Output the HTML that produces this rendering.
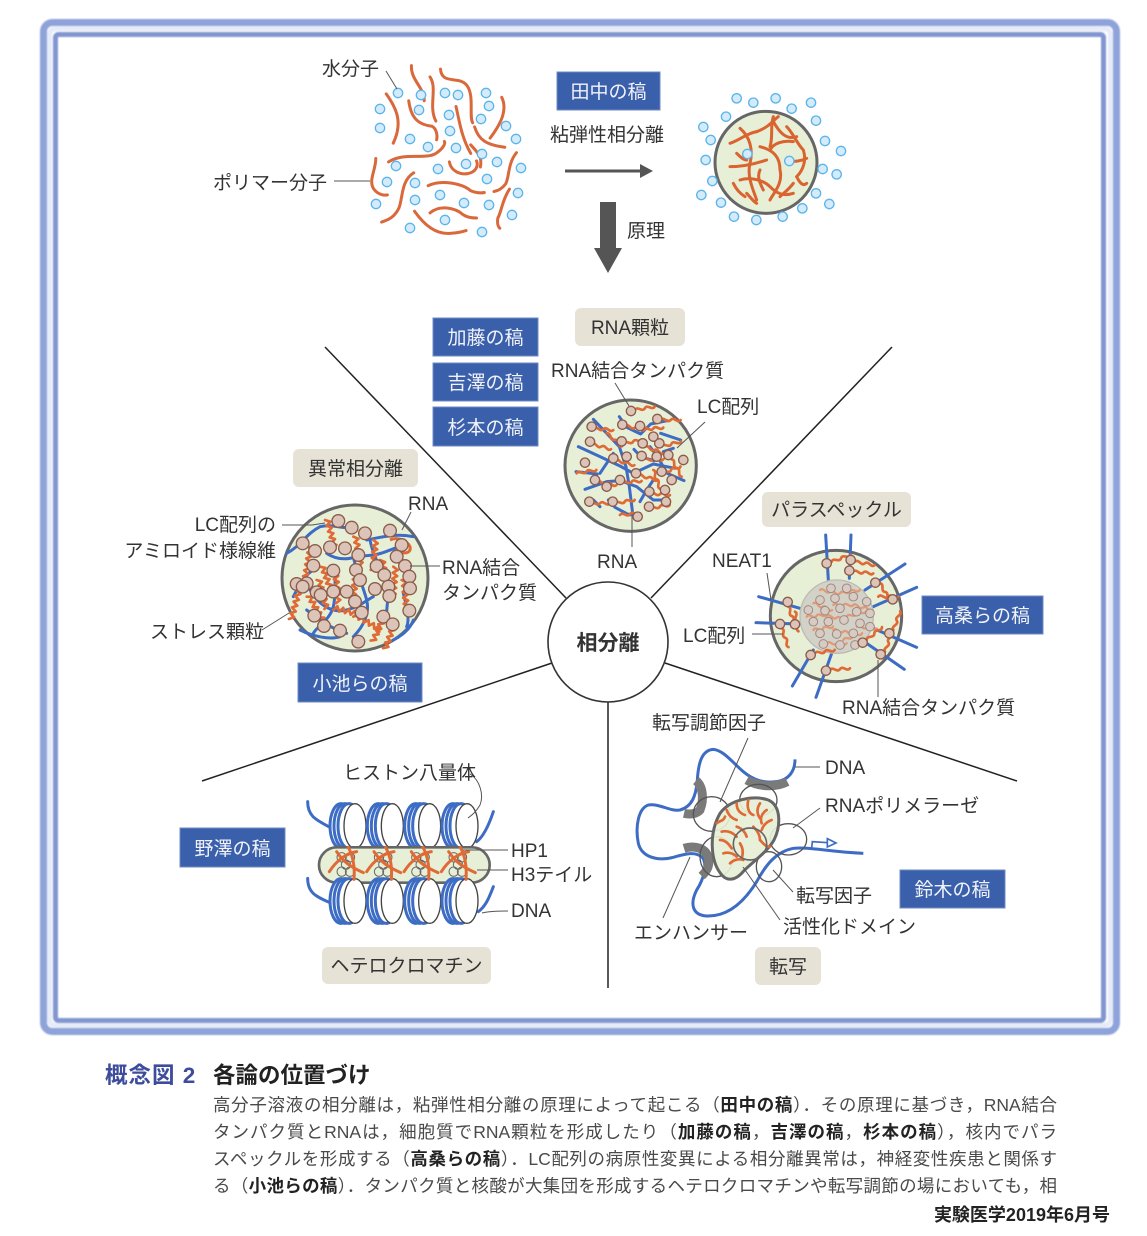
<!DOCTYPE html>
<html><head><meta charset="utf-8">
<style>
html,body{margin:0;padding:0;background:#fff;}
body{width:1147px;height:1236px;position:relative;overflow:hidden;font-family:"Liberation Sans","Noto Sans CJK JP",sans-serif;}
svg{position:absolute;left:0;top:0;}
.t{font-family:"Liberation Sans","Noto Sans CJK JP",sans-serif;font-size:19px;fill:#333;}
.bt{font-family:"Liberation Sans","Noto Sans CJK JP",sans-serif;font-size:19px;fill:#f2f3f9;}
.ld{stroke:#555;stroke-width:1;fill:none;}
.wdm{fill:#d3ebfa;stroke:#5bb4ea;stroke-width:1.3;}
.cap{position:absolute;left:213px;width:844px;font-size:17.5px;color:#4a4a4a;text-align:justify;text-align-last:justify;line-height:20px;white-space:nowrap;}
.cap b{color:#222;}
.hd{position:absolute;top:1063px;font-size:22.5px;font-weight:bold;line-height:26px;white-space:nowrap;}
</style></head><body>
<svg width="1147" height="1236" viewBox="0 0 1147 1236">
<defs>
 <circle id="wd" r="14" fill="#d3ebfa" stroke="#5bb4ea" stroke-width="4"/>
 <circle id="p" r="14" fill="#dcc5b8" stroke="#8b5b4b" stroke-width="4"/>
 <circle id="pb" r="19" fill="#dcc5b8" stroke="#8b5b4b" stroke-width="4"/>
 <circle id="pc" r="13" fill="#d8cbc3" stroke="#9d8a80" stroke-width="3"/>
 <path id="w" d="M0,0 c10,-12 20,12 30,0 s20,12 30,0" fill="none" stroke="#e06a35" stroke-width="8" stroke-linecap="round"/>
 <path id="wc" d="M0,0 c10,-12 20,12 30,0 s20,12 30,0" fill="none" stroke="#e09a78" stroke-width="7" stroke-linecap="round"/>
 <path id="z" d="M0,0 l14,9 -14,9 14,9 -14,9 14,9 -14,9 14,9 -14,9 14,9 -14,9" fill="none" stroke="#e06a35" stroke-width="8" stroke-linejoin="round" stroke-linecap="round"/>
 <filter id="bl" x="-5%" y="-5%" width="110%" height="110%"><feGaussianBlur stdDeviation="0.9"/></filter>
</defs>

<!-- frame -->
<g filter="url(#bl)">
<rect x="43.5" y="22.5" width="1073" height="1009" rx="9" fill="none" stroke="#8ea3da" stroke-width="7"/>
<rect x="49.5" y="28.5" width="1061" height="997" rx="6" fill="none" stroke="#e6ebf8" stroke-width="5"/>
<rect x="55.5" y="34.5" width="1048" height="986" rx="3" fill="none" stroke="#8195d0" stroke-width="5"/>
</g>

<!-- radial lines -->
<g stroke="#222" stroke-width="1.5">
<line x1="325" y1="347" x2="566" y2="598"/>
<line x1="892" y1="347" x2="651" y2="598"/>
<line x1="202" y1="781" x2="552" y2="663"/>
<line x1="1017" y1="781" x2="665" y2="663"/>
<line x1="608" y1="702" x2="608" y2="988"/>
</g>
<circle cx="608" cy="642" r="60" fill="#fff" stroke="#333" stroke-width="1.6"/>
<text x="608" y="650" text-anchor="middle" style="font-family:'Liberation Sans','Noto Sans CJK JP',sans-serif;font-size:21px;font-weight:bold;fill:#333">相分離</text>

<!-- left blob: polymers -->
<g transform="matrix(0.3875,0,0,0.34,25.1,7.2)" fill="none" stroke="#d9683a" stroke-width="3" stroke-linecap="round">
<path vector-effect="non-scaling-stroke" d="M997,172 C995,215 1030,235 1030,275"/>
<path vector-effect="non-scaling-stroke" d="M1045,205 C1065,240 1040,290 1060,335"/>
<path vector-effect="non-scaling-stroke" d="M1072,182 C1075,230 1120,200 1140,230 C1160,260 1145,320 1155,340"/>
<path vector-effect="non-scaling-stroke" d="M932,255 C960,300 975,340 950,400"/>
<path vector-effect="non-scaling-stroke" d="M990,275 C995,320 1010,345 1050,350 C1060,355 1065,375 1062,390"/>
<path vector-effect="non-scaling-stroke" d="M1112,292 C1120,330 1125,380 1150,430"/>
<path vector-effect="non-scaling-stroke" d="M1230,265 C1245,300 1230,340 1200,385"/>
<path vector-effect="non-scaling-stroke" d="M1160,352 C1170,390 1190,405 1238,412"/>
<path vector-effect="non-scaling-stroke" d="M938,455 C980,425 1030,450 1060,430 C1080,415 1085,400 1082,395"/>
<path vector-effect="non-scaling-stroke" d="M905,445 C905,480 885,510 900,535 C910,550 925,555 935,552"/>
<path vector-effect="non-scaling-stroke" d="M1003,487 C970,510 975,560 965,590 C955,615 940,625 920,632"/>
<path vector-effect="non-scaling-stroke" d="M1095,455 C1100,490 1140,500 1160,480 C1168,470 1168,460 1165,452"/>
<path vector-effect="non-scaling-stroke" d="M1268,428 C1245,460 1250,500 1240,520 C1230,535 1220,540 1210,542"/>
<path vector-effect="non-scaling-stroke" d="M1040,525 C1075,505 1130,520 1150,540 C1160,545 1175,548 1185,545"/>
<path vector-effect="non-scaling-stroke" d="M1045,605 C1070,580 1110,590 1130,610 C1140,618 1155,620 1165,620"/>
<path vector-effect="non-scaling-stroke" d="M1005,600 C1030,640 1060,670 1100,665 C1120,663 1130,660 1138,657"/>
<path vector-effect="non-scaling-stroke" d="M1250,535 C1230,570 1230,600 1220,620 C1218,635 1220,645 1225,650"/>
<path vector-effect="non-scaling-stroke" d="M1150,405 C1170,430 1180,440 1175,470"/>
</g>
<g class="wdm">
<circle cx="398" cy="93" r="4.7"/><circle cx="421" cy="95" r="4.7"/><circle cx="445" cy="93" r="4.7"/><circle cx="458" cy="95" r="4.7"/><circle cx="486" cy="93" r="4.7"/><circle cx="489" cy="106" r="4.7"/><circle cx="380" cy="109" r="4.7"/><circle cx="419" cy="110" r="4.7"/><circle cx="449" cy="115" r="4.7"/><circle cx="481" cy="119" r="4.7"/><circle cx="506" cy="126" r="4.7"/><circle cx="380" cy="128" r="4.7"/><circle cx="450" cy="131" r="4.7"/><circle cx="516" cy="139" r="4.7"/><circle cx="410" cy="139" r="4.7"/><circle cx="428" cy="147" r="4.7"/><circle cx="456" cy="148" r="4.7"/><circle cx="482" cy="154" r="4.7"/><circle cx="466" cy="164" r="4.7"/><circle cx="497" cy="162" r="4.7"/><circle cx="396" cy="166" r="4.7"/><circle cx="438" cy="169" r="4.7"/><circle cx="521" cy="168" r="4.7"/><circle cx="387" cy="182" r="4.7"/><circle cx="415" cy="183" r="4.7"/><circle cx="487" cy="179" r="4.7"/><circle cx="440" cy="195" r="4.7"/><circle cx="518" cy="193" r="4.7"/><circle cx="376" cy="204" r="4.7"/><circle cx="415" cy="200" r="4.7"/><circle cx="464" cy="203" r="4.7"/><circle cx="489" cy="205" r="4.7"/><circle cx="512" cy="215" r="4.7"/><circle cx="445" cy="220" r="4.7"/><circle cx="410" cy="228" r="4.7"/><circle cx="482" cy="232" r="4.7"/>
</g>
<line class="ld" x1="386" y1="71" x2="397" y2="89"/>
<line class="ld" x1="334" y1="181" x2="370" y2="181"/>

<!-- top arrows -->
<line x1="565" y1="171" x2="642" y2="171" stroke="#555" stroke-width="3"/>
<polygon points="640,164 653,171 640,178" fill="#555"/>
<rect x="600" y="202" width="16" height="47" fill="#555"/>
<polygon points="594,248 622,248 608,273" fill="#555"/>

<!-- right droplet -->
<g transform="translate(540,50) scale(0.33333)">
<circle cx="678" cy="337" r="153" fill="#e7efd6" stroke="#666" stroke-width="9"/>
<g fill="none" stroke="#d9642f" stroke-width="9" stroke-linecap="round">
<path d="M570,280 C600,270 620,250 650,245"/>
<path d="M600,235 C630,260 640,300 630,340 C620,380 640,420 650,450"/>
<path d="M650,245 C690,230 700,210 715,200"/>
<path d="M700,215 C720,250 740,270 770,260"/>
<path d="M660,290 C700,300 720,320 720,360 C730,400 700,430 690,450"/>
<path d="M570,350 C610,350 650,340 680,330"/>
<path d="M740,230 C760,250 770,280 790,300 C800,330 790,360 770,380"/>
<path d="M600,390 C630,380 670,390 690,410 C710,430 730,440 760,430"/>
<path d="M740,330 C760,340 790,330 800,325"/>
<path d="M620,430 C630,440 640,455 650,460"/>
<path d="M770,380 C780,400 790,410 800,400"/>
<path d="M690,300 C700,280 730,270 760,275"/>
<path d="M590,310 C600,320 610,330 620,330"/>
<path d="M760,400 C745,420 730,430 720,440"/>
<path d="M660,360 C650,380 660,400 670,420"/>
<path d="M700,200 C690,230 700,260 690,290"/>
<path d="M580,400 C590,420 600,430 615,440"/>
</g>
<use href="#wd" x="590" y="145"/><use href="#wd" x="640" y="158"/><use href="#wd" x="707" y="145"/><use href="#wd" x="755" y="176"/><use href="#wd" x="813" y="158"/><use href="#wd" x="558" y="200"/><use href="#wd" x="828" y="212"/><use href="#wd" x="490" y="231"/><use href="#wd" x="512" y="270"/><use href="#wd" x="855" y="273"/><use href="#wd" x="903" y="303"/><use href="#wd" x="497" y="330"/><use href="#wd" x="848" y="357"/><use href="#wd" x="890" y="373"/><use href="#wd" x="517" y="393"/><use href="#wd" x="828" y="430"/><use href="#wd" x="484" y="435"/><use href="#wd" x="868" y="462"/><use href="#wd" x="543" y="458"/><use href="#wd" x="787" y="475"/><use href="#wd" x="582" y="500"/><use href="#wd" x="649" y="510"/><use href="#wd" x="728" y="500"/><use href="#wd" x="622" y="312"/><use href="#wd" x="748" y="333"/>
</g>

<!-- RNA granule -->
<g transform="translate(420,300) scale(0.33333)">
<circle cx="632" cy="497" r="197" fill="#e7efd6" stroke="#666" stroke-width="9"/>
<g fill="none" stroke="#3d6cc4" stroke-width="9" stroke-linecap="round" stroke-linejoin="round">
<path d="M475,440 L540,470 L600,498 L640,520 L700,492 L765,505"/>
<path d="M520,358 L560,400 L598,440 L618,500 L628,560 L638,640"/>
<path d="M598,350 L620,382 L662,402 L692,372 L742,362"/>
<path d="M495,568 L560,545 L602,542 L650,560 L700,600 L745,600"/>
<path d="M690,440 L712,470 L742,520 L792,542"/>
<path d="M565,600 L585,622 L622,642 L662,652"/>
<path d="M722,400 L782,420"/>
<path d="M468,515 L532,522"/>
<path d="M642,448 L662,470 L702,482"/>
<path d="M580,460 L560,490 L540,520"/>
<path d="M700,540 L680,570 L660,605"/>
<path d="M730,455 L760,445"/>
<path d="M520,600 L540,620"/>
</g>
<use href="#w" transform="translate(645,330) rotate(-10)"/>
<use href="#w" transform="translate(520,385) rotate(5)"/>
<use href="#w" transform="translate(615,378) rotate(10)"/>
<use href="#w" transform="translate(670,388) rotate(-5)"/>
<use href="#w" transform="translate(722,360) rotate(0)"/>
<use href="#w" transform="translate(515,432) rotate(15)"/>
<use href="#w" transform="translate(610,430) rotate(-10)"/>
<use href="#w" transform="translate(675,440) rotate(20)"/>
<use href="#w" transform="translate(725,440) rotate(-15)"/>
<use href="#w" transform="translate(755,478) rotate(60)"/>
<use href="#w" transform="translate(470,520) rotate(-10)"/>
<use href="#w" transform="translate(585,480) rotate(15)"/>
<use href="#w" transform="translate(670,478) rotate(0)"/>
<use href="#w" transform="translate(725,520) rotate(-20)"/>
<use href="#w" transform="translate(530,545) rotate(10)"/>
<use href="#w" transform="translate(605,548) rotate(-5)"/>
<use href="#w" transform="translate(655,525) rotate(15)"/>
<use href="#w" transform="translate(690,580) rotate(5)"/>
<use href="#w" transform="translate(510,610) rotate(0)"/>
<use href="#w" transform="translate(585,610) rotate(-10)"/>
<use href="#w" transform="translate(690,625) rotate(-10)"/>
<use href="#w" transform="translate(600,645) rotate(-5)"/>
<use href="#w" transform="translate(700,510) rotate(70)"/>
<use href="#w" transform="translate(560,400) rotate(40)"/>
<g>
<use href="#p" x="633" y="333"/><use href="#p" x="515" y="380"/><use href="#p" x="607" y="374"/><use href="#p" x="660" y="378"/><use href="#p" x="712" y="357"/><use href="#p" x="510" y="425"/><use href="#p" x="605" y="424"/><use href="#p" x="668" y="430"/><use href="#p" x="718" y="430"/><use href="#p" x="745" y="465"/><use href="#p" x="790" y="480"/><use href="#p" x="495" y="488"/><use href="#p" x="580" y="475"/><use href="#p" x="665" y="468"/><use href="#p" x="710" y="470"/><use href="#p" x="725" y="515"/><use href="#p" x="755" y="540"/><use href="#p" x="525" y="540"/><use href="#p" x="600" y="540"/><use href="#p" x="648" y="520"/><use href="#p" x="688" y="575"/><use href="#p" x="735" y="570"/><use href="#p" x="508" y="605"/><use href="#p" x="578" y="605"/><use href="#p" x="687" y="620"/><use href="#p" x="738" y="605"/><use href="#p" x="653" y="650"/><use href="#p" x="560" y="560"/><use href="#p" x="620" y="470"/><use href="#p" x="700" y="410"/>
</g>
</g>
<line class="ld" x1="615" y1="383" x2="629" y2="406"/>
<line class="ld" x1="705" y1="422" x2="677" y2="448"/>
<line class="ld" x1="632" y1="517" x2="632" y2="547"/>

<!-- stress granule -->
<g transform="translate(120,440) scale(0.33333)">
<circle cx="705" cy="414" r="219" fill="#e7efd6" stroke="#666" stroke-width="9"/>
<g fill="none" stroke="#3d6cc4" stroke-width="9" stroke-linecap="round">
<path d="M500,340 C540,320 560,280 600,260 C640,250 670,270 700,260"/>
<path d="M740,300 C790,290 830,280 880,290"/>
<path d="M520,470 C540,430 560,400 580,390"/>
<path d="M570,450 C600,500 640,520 680,510 C720,500 740,480 760,470"/>
<path d="M650,380 C640,420 650,460 640,500 C630,540 590,560 580,580"/>
<path d="M700,350 C710,400 730,440 740,480 C750,520 730,560 700,590"/>
<path d="M750,300 C760,350 780,380 800,420 C810,460 800,490 800,520"/>
<path d="M850,460 C860,500 870,540 860,560"/>
<path d="M620,340 C650,360 680,360 710,350 L760,345 C800,340 820,320 850,320"/>
<path d="M560,510 C600,540 640,570 680,580"/>
<path d="M540,570 C580,590 630,600 660,590"/>
<path d="M820,600 C840,590 870,570 880,540"/>
</g>
<use href="#z" transform="translate(615,240) rotate(-15)"/>
<use href="#z" transform="translate(700,290) rotate(-10)"/>
<use href="#z" transform="translate(760,300) rotate(5)"/>
<use href="#z" transform="translate(565,320) rotate(10)"/>
<use href="#z" transform="translate(600,380) rotate(-20)"/>
<use href="#z" transform="translate(640,400) rotate(-5)"/>
<use href="#z" transform="translate(700,400) rotate(5)"/>
<use href="#z" transform="translate(780,360) rotate(-10)"/>
<use href="#z" transform="translate(820,380) rotate(5)"/>
<use href="#z" transform="translate(845,420) rotate(-5)"/>
<use href="#z" transform="translate(530,450) rotate(15)"/>
<use href="#z" transform="translate(590,420) rotate(-15)"/>
<use href="#z" transform="translate(640,510) rotate(-75)"/>
<use href="#z" transform="translate(700,530) rotate(-60)"/>
<use href="#z" transform="translate(790,520) rotate(25)"/>
<use href="#z" transform="translate(820,540) rotate(20)"/>
<use href="#z" transform="translate(560,470) rotate(-30)"/>
<path d="M810,300 C830,290 860,300 870,320 C875,340 850,345 835,330" fill="none" stroke="#e06a35" stroke-width="9"/>
<use href="#pb" x="655" y="243"/><use href="#pb" x="695" y="263"/><use href="#pb" x="735" y="280"/><use href="#pb" x="810" y="272"/><use href="#pb" x="845" y="315"/><use href="#pb" x="548" y="310"/><use href="#pb" x="585" y="333"/><use href="#pb" x="630" y="322"/><use href="#pb" x="675" y="325"/><use href="#pb" x="715" y="345"/><use href="#pb" x="830" y="350"/><use href="#pb" x="855" y="378"/><use href="#pb" x="580" y="377"/><use href="#pb" x="640" y="392"/><use href="#pb" x="708" y="390"/><use href="#pb" x="770" y="378"/><use href="#pb" x="793" y="405"/><use href="#pb" x="868" y="410"/><use href="#pb" x="530" y="432"/><use href="#pb" x="560" y="430"/><use href="#pb" x="590" y="457"/><use href="#pb" x="640" y="455"/><use href="#pb" x="680" y="455"/><use href="#pb" x="720" y="420"/><use href="#pb" x="765" y="447"/><use href="#pb" x="805" y="440"/><use href="#pb" x="870" y="445"/><use href="#pb" x="705" y="485"/><use href="#pb" x="808" y="468"/><use href="#pb" x="583" y="527"/><use href="#pb" x="725" y="518"/><use href="#pb" x="790" y="530"/><use href="#pb" x="868" y="512"/><use href="#pb" x="612" y="558"/><use href="#pb" x="660" y="572"/><use href="#pb" x="715" y="605"/><use href="#pb" x="818" y="553"/><use href="#pb" x="548" y="440"/><use href="#pb" x="602" y="465"/>
</g>
<polyline class="ld" points="282,525 312,525 325,523"/>
<line class="ld" x1="411" y1="512" x2="402" y2="530"/>
<line class="ld" x1="410" y1="566" x2="440" y2="566"/>
<line class="ld" x1="262" y1="630" x2="289" y2="613"/>

<!-- paraspeckle -->
<g transform="translate(640,480) scale(0.33333)">
<circle cx="588" cy="408" r="197" fill="#e7efd6" stroke="#666" stroke-width="9"/>
<g stroke="#3d6cc4" stroke-width="9" stroke-linecap="round">
<line x1="565" y1="300" x2="557" y2="165"/>
<line x1="628" y1="295" x2="633" y2="165"/>
<line x1="675" y1="330" x2="795" y2="252"/>
<line x1="700" y1="380" x2="830" y2="322"/>
<line x1="700" y1="445" x2="830" y2="502"/>
<line x1="680" y1="490" x2="793" y2="568"/>
<line x1="575" y1="520" x2="528" y2="652"/>
<line x1="520" y1="510" x2="457" y2="618"/>
<line x1="480" y1="385" x2="356" y2="350"/>
<line x1="480" y1="432" x2="348" y2="428"/>
</g>
<circle cx="590" cy="410" r="110" fill="#d3d2c8" stroke="#bdbcb2" stroke-width="4"/>
<use href="#wc" transform="translate(540,330) rotate(10)"/>
<use href="#wc" transform="translate(600,340) rotate(-10)"/>
<use href="#wc" transform="translate(520,370) rotate(20)"/>
<use href="#wc" transform="translate(580,375) rotate(0)"/>
<use href="#wc" transform="translate(640,375) rotate(15)"/>
<use href="#wc" transform="translate(500,410) rotate(-5)"/>
<use href="#wc" transform="translate(560,408) rotate(10)"/>
<use href="#wc" transform="translate(620,410) rotate(-15)"/>
<use href="#wc" transform="translate(650,440) rotate(5)"/>
<use href="#wc" transform="translate(520,450) rotate(-10)"/>
<use href="#wc" transform="translate(580,450) rotate(10)"/>
<use href="#wc" transform="translate(560,490) rotate(0)"/>
<use href="#wc" transform="translate(610,480) rotate(-20)"/>
<use href="#pc" x="573" y="325"/><use href="#pc" x="620" y="325"/><use href="#pc" x="540" y="360"/><use href="#pc" x="585" y="355"/><use href="#pc" x="640" y="350"/><use href="#pc" x="680" y="365"/><use href="#pc" x="505" y="390"/><use href="#pc" x="555" y="392"/><use href="#pc" x="600" y="385"/><use href="#pc" x="650" y="395"/><use href="#pc" x="690" y="400"/><use href="#pc" x="520" y="425"/><use href="#pc" x="565" y="425"/><use href="#pc" x="612" y="420"/><use href="#pc" x="660" y="430"/><use href="#pc" x="690" y="440"/><use href="#pc" x="540" y="460"/><use href="#pc" x="590" y="462"/><use href="#pc" x="640" y="460"/><use href="#pc" x="600" y="495"/><use href="#pc" x="550" y="492"/><use href="#pc" x="645" y="495"/>
<use href="#w" transform="translate(575,245) rotate(-20)"/>
<use href="#w" transform="translate(645,245) rotate(10)"/>
<use href="#w" transform="translate(640,275) rotate(5)"/>
<use href="#w" transform="translate(720,310) rotate(60)"/>
<use href="#w" transform="translate(715,350) rotate(0)"/>
<use href="#w" transform="translate(445,380) rotate(70)"/>
<use href="#w" transform="translate(465,395) rotate(80)"/>
<use href="#w" transform="translate(425,445) rotate(70)"/>
<use href="#w" transform="translate(760,450) rotate(-70)"/>
<use href="#w" transform="translate(735,515) rotate(-70)"/>
<use href="#w" transform="translate(680,480) rotate(-40)"/>
<use href="#w" transform="translate(525,520) rotate(-10)"/>
<use href="#w" transform="translate(570,570) rotate(-5)"/>
<use href="#p" x="560" y="250"/><use href="#p" x="632" y="240"/><use href="#p" x="628" y="272"/><use href="#p" x="706" y="308"/><use href="#p" x="758" y="358"/><use href="#p" x="443" y="366"/><use href="#p" x="420" y="432"/><use href="#p" x="465" y="433"/><use href="#p" x="748" y="460"/><use href="#p" x="722" y="523"/><use href="#p" x="668" y="488"/><use href="#p" x="512" y="525"/><use href="#p" x="558" y="572"/>
</g>
<line class="ld" x1="767" y1="573" x2="771" y2="600"/>
<line class="ld" x1="752" y1="634" x2="783" y2="634"/>
<line class="ld" x1="878" y1="660" x2="878" y2="697"/>

<!-- heterochromatin -->
<g transform="translate(170,740) scale(0.33333)">
<g fill="none" stroke="#3d6cc4" stroke-width="9" stroke-linecap="round">
<path d="M413,185 C413,230 440,240 480,262"/>
<path d="M970,215 C955,260 940,290 920,305"/>
<path d="M413,415 C413,460 440,470 480,488"/>
<path d="M970,440 C955,480 945,500 925,515"/>
</g>
<g>
<ellipse cx="513" cy="258" rx="33" ry="67" fill="#fff" stroke="#3d6cc4" stroke-width="9"/>
<ellipse cx="525" cy="258" rx="33" ry="67" fill="#fff" stroke="#3d6cc4" stroke-width="9"/>
<ellipse cx="537" cy="258" rx="33" ry="67" fill="#fff" stroke="#3d6cc4" stroke-width="9"/>
<ellipse cx="555" cy="258" rx="33" ry="67" fill="#fff" stroke="#444" stroke-width="4"/>
<ellipse cx="625" cy="258" rx="33" ry="67" fill="#fff" stroke="#3d6cc4" stroke-width="9"/>
<ellipse cx="637" cy="258" rx="33" ry="67" fill="#fff" stroke="#3d6cc4" stroke-width="9"/>
<ellipse cx="649" cy="258" rx="33" ry="67" fill="#fff" stroke="#3d6cc4" stroke-width="9"/>
<ellipse cx="667" cy="258" rx="33" ry="67" fill="#fff" stroke="#444" stroke-width="4"/>
<ellipse cx="737" cy="258" rx="33" ry="67" fill="#fff" stroke="#3d6cc4" stroke-width="9"/>
<ellipse cx="749" cy="258" rx="33" ry="67" fill="#fff" stroke="#3d6cc4" stroke-width="9"/>
<ellipse cx="761" cy="258" rx="33" ry="67" fill="#fff" stroke="#3d6cc4" stroke-width="9"/>
<ellipse cx="779" cy="258" rx="33" ry="67" fill="#fff" stroke="#444" stroke-width="4"/>
<ellipse cx="849" cy="258" rx="33" ry="67" fill="#fff" stroke="#3d6cc4" stroke-width="9"/>
<ellipse cx="861" cy="258" rx="33" ry="67" fill="#fff" stroke="#3d6cc4" stroke-width="9"/>
<ellipse cx="873" cy="258" rx="33" ry="67" fill="#fff" stroke="#3d6cc4" stroke-width="9"/>
<ellipse cx="891" cy="258" rx="33" ry="67" fill="#fff" stroke="#444" stroke-width="4"/>
</g>
<rect x="447" y="322" width="512" height="106" rx="53" fill="#e7efd6" stroke="#666" stroke-width="8"/>
<g>
<ellipse cx="513" cy="483" rx="33" ry="67" fill="#fff" stroke="#3d6cc4" stroke-width="9"/>
<ellipse cx="525" cy="483" rx="33" ry="67" fill="#fff" stroke="#3d6cc4" stroke-width="9"/>
<ellipse cx="537" cy="483" rx="33" ry="67" fill="#fff" stroke="#3d6cc4" stroke-width="9"/>
<ellipse cx="555" cy="483" rx="33" ry="67" fill="#fff" stroke="#444" stroke-width="4"/>
<ellipse cx="625" cy="483" rx="33" ry="67" fill="#fff" stroke="#3d6cc4" stroke-width="9"/>
<ellipse cx="637" cy="483" rx="33" ry="67" fill="#fff" stroke="#3d6cc4" stroke-width="9"/>
<ellipse cx="649" cy="483" rx="33" ry="67" fill="#fff" stroke="#3d6cc4" stroke-width="9"/>
<ellipse cx="667" cy="483" rx="33" ry="67" fill="#fff" stroke="#444" stroke-width="4"/>
<ellipse cx="737" cy="483" rx="33" ry="67" fill="#fff" stroke="#3d6cc4" stroke-width="9"/>
<ellipse cx="749" cy="483" rx="33" ry="67" fill="#fff" stroke="#3d6cc4" stroke-width="9"/>
<ellipse cx="761" cy="483" rx="33" ry="67" fill="#fff" stroke="#3d6cc4" stroke-width="9"/>
<ellipse cx="779" cy="483" rx="33" ry="67" fill="#fff" stroke="#444" stroke-width="4"/>
<ellipse cx="849" cy="483" rx="33" ry="67" fill="#fff" stroke="#3d6cc4" stroke-width="9"/>
<ellipse cx="861" cy="483" rx="33" ry="67" fill="#fff" stroke="#3d6cc4" stroke-width="9"/>
<ellipse cx="873" cy="483" rx="33" ry="67" fill="#fff" stroke="#3d6cc4" stroke-width="9"/>
<ellipse cx="891" cy="483" rx="33" ry="67" fill="#fff" stroke="#444" stroke-width="4"/>
</g>
<g fill="none" stroke="#666" stroke-width="3">
<circle cx="515" cy="352" r="14"/><circle cx="540" cy="352" r="14"/><circle cx="515" cy="395" r="14"/><circle cx="540" cy="395" r="14"/><circle cx="528" cy="374" r="14"/>
<circle cx="627" cy="352" r="14"/><circle cx="652" cy="352" r="14"/><circle cx="627" cy="395" r="14"/><circle cx="652" cy="395" r="14"/><circle cx="640" cy="374" r="14"/>
<circle cx="739" cy="352" r="14"/><circle cx="764" cy="352" r="14"/><circle cx="739" cy="395" r="14"/><circle cx="764" cy="395" r="14"/><circle cx="752" cy="374" r="14"/>
<circle cx="851" cy="352" r="14"/><circle cx="876" cy="352" r="14"/><circle cx="851" cy="395" r="14"/><circle cx="876" cy="395" r="14"/><circle cx="864" cy="374" r="14"/>
</g>
<g fill="none" stroke="#e06a35" stroke-width="9" stroke-linecap="round">
<path d="M478,395 C500,360 530,340 560,335"/><path d="M535,322 C550,350 555,380 552,418"/><path d="M500,335 C520,365 540,380 580,398"/>
<path d="M590,395 C612,360 642,340 672,335"/><path d="M647,322 C662,350 667,380 664,418"/><path d="M612,335 C632,365 652,380 692,398"/>
<path d="M702,395 C724,360 754,340 784,335"/><path d="M759,322 C774,350 779,380 776,418"/><path d="M724,335 C744,365 764,380 804,398"/>
<path d="M814,395 C836,360 866,340 896,335"/><path d="M871,322 C886,350 891,380 888,418"/><path d="M836,335 C856,365 876,380 916,398"/>
</g>
</g>
<path class="ld" d="M470,774 C480,780 484,795 480,805 C476,812 472,815 468,818"/>
<line class="ld" x1="463" y1="850" x2="508" y2="850"/>
<line class="ld" x1="477" y1="870" x2="508" y2="870"/>
<path class="ld" d="M482,913 C490,911 500,911 508,911"/>

<!-- transcription -->
<g transform="translate(620,700) scale(0.33333)">
<path d="M525,178 C525,215 505,240 470,245 C430,250 400,240 370,215 C340,190 310,150 280,148 C245,150 235,190 232,240 C228,290 215,320 180,330 C150,335 120,310 85,315 C55,325 45,380 55,430 C65,470 110,485 160,472 C200,460 225,455 245,470 C265,490 250,540 230,570 C210,610 215,645 260,648 C320,650 370,610 410,545 C440,490 470,455 520,445 C570,440 620,455 730,460" fill="none" stroke="#3d6cc4" stroke-width="9"/>
<path d="M575,445 L577,425 L625,428" fill="none" stroke="#3d6cc4" stroke-width="5"/>
<polygon points="622,416 648,429 622,441" fill="#fff" stroke="#3d6cc4" stroke-width="5"/>
<g fill="none" stroke="#7a7a7a" stroke-width="27">
<path d="M380,240 C420,262 470,262 502,245"/>
<path d="M228,242 C250,260 252,300 240,330 C230,342 210,344 192,340"/>
<path d="M192,445 C225,435 255,445 263,468 C272,495 262,512 245,528"/>
</g>
<g fill="none" stroke="#555" stroke-width="4">
<ellipse cx="275" cy="342" rx="55" ry="52"/>
<ellipse cx="415" cy="300" rx="56" ry="47"/>
<ellipse cx="505" cy="418" rx="55" ry="47"/>
<ellipse cx="290" cy="470" rx="50" ry="60"/>
<ellipse cx="447" cy="500" rx="38" ry="45"/>
</g>
<path d="M300,340 C330,298 400,285 445,300 C485,318 482,380 462,420 C442,455 405,480 372,512 C345,545 318,545 300,518 C272,480 266,400 300,340 Z" fill="#e7efd6" fill-opacity="0.92" stroke="#666" stroke-width="9"/>
<g fill="none" stroke="#e06a35" stroke-width="8" stroke-linecap="round">
<path d="M290,370 c10,-10 20,-5 25,-20"/><path d="M320,330 c5,15 15,25 30,30"/><path d="M350,310 c0,20 10,30 25,35"/><path d="M385,300 c-5,20 0,40 15,45"/><path d="M420,310 c-10,15 -10,30 0,45"/><path d="M440,330 c-15,10 -20,25 -15,40"/><path d="M300,420 c15,0 25,10 35,25"/><path d="M310,460 c15,-5 30,0 40,10"/><path d="M330,490 c10,-10 25,-15 40,-10"/><path d="M350,380 c15,5 25,15 30,30"/><path d="M400,380 c10,10 20,25 20,40"/><path d="M420,420 c10,10 15,20 30,20"/><path d="M360,430 c10,15 10,30 5,45"/><path d="M305,395 c20,-5 35,5 45,15"/><path d="M455,360 c-15,5 -25,15 -30,30"/>
</g>
<ellipse cx="390" cy="432" rx="50" ry="48" fill="none" stroke="#666" stroke-width="5"/>
</g>
<line class="ld" x1="748" y1="738" x2="720" y2="802"/>
<line class="ld" x1="795" y1="767" x2="820" y2="767"/>
<line class="ld" x1="820" y1="808" x2="793" y2="828"/>
<line class="ld" x1="793" y1="892" x2="773" y2="870"/>
<line class="ld" x1="780" y1="920" x2="743" y2="867"/>
<line class="ld" x1="663" y1="918" x2="690" y2="857"/>

<!-- blue boxes -->
<g fill="#3a5fab" stroke="#6f8ac4" stroke-width="1">
<rect x="557" y="72" width="103" height="38"/>
<rect x="433" y="318" width="105" height="38"/>
<rect x="433" y="363" width="105" height="38"/>
<rect x="433" y="407" width="105" height="39"/>
<rect x="298" y="663" width="124" height="39"/>
<rect x="922" y="596" width="121" height="38"/>
<rect x="180" y="828" width="105" height="39"/>
<rect x="900" y="870" width="105" height="38"/>
</g>
<g text-anchor="middle">
<text class="bt" x="608.5" y="98">田中の稿</text>
<text class="bt" x="485.5" y="344">加藤の稿</text>
<text class="bt" x="485.5" y="389">吉澤の稿</text>
<text class="bt" x="485.5" y="434">杉本の稿</text>
<text class="bt" x="360" y="690">小池らの稿</text>
<text class="bt" x="982.5" y="622">高桑らの稿</text>
<text class="bt" x="232.5" y="855">野澤の稿</text>
<text class="bt" x="952.5" y="896">鈴木の稿</text>
</g>

<!-- beige boxes -->
<g fill="#e6e2d6">
<rect x="575" y="308" width="110" height="38" rx="6"/>
<rect x="293" y="449" width="125" height="38" rx="6"/>
<rect x="762" y="492" width="149" height="35" rx="6"/>
<rect x="322" y="947" width="169" height="37" rx="6"/>
<rect x="755" y="947" width="66" height="38" rx="6"/>
</g>
<g text-anchor="middle">
<text class="t" x="630" y="334">RNA顆粒</text>
<text class="t" x="355.5" y="475">異常相分離</text>
<text class="t" x="836.5" y="516">パラスペックル</text>
<text class="t" x="406.5" y="972">ヘテロクロマチン</text>
<text class="t" x="788" y="973">転写</text>
</g>

<!-- labels -->
<text class="t" x="322" y="75">水分子</text>
<text class="t" x="213" y="189">ポリマー分子</text>
<text class="t" x="550" y="141">粘弾性相分離</text>
<text class="t" x="627" y="237">原理</text>
<text class="t" x="551" y="377">RNA結合タンパク質</text>
<text class="t" x="697" y="413">LC配列</text>
<text class="t" x="597" y="568">RNA</text>
<text class="t" x="276" y="531" text-anchor="end">LC配列の</text>
<text class="t" x="276" y="557" text-anchor="end">アミロイド様線維</text>
<text class="t" x="408" y="510">RNA</text>
<text class="t" x="442" y="574">RNA結合</text>
<text class="t" x="442" y="599">タンパク質</text>
<text class="t" x="150" y="638">ストレス顆粒</text>
<text class="t" x="712" y="567">NEAT1</text>
<text class="t" x="683" y="642">LC配列</text>
<text class="t" x="842" y="714">RNA結合タンパク質</text>
<text class="t" x="652" y="729">転写調節因子</text>
<text class="t" x="825" y="774">DNA</text>
<text class="t" x="825" y="812">RNAポリメラーゼ</text>
<text class="t" x="796" y="902">転写因子</text>
<text class="t" x="783" y="933">活性化ドメイン</text>
<text class="t" x="634" y="939">エンハンサー</text>
<text class="t" x="343" y="779">ヒストン八量体</text>
<text class="t" x="511" y="857">HP1</text>
<text class="t" x="511" y="881">H3テイル</text>
<text class="t" x="511" y="917">DNA</text>
</svg>

<div class="hd" style="left:105px;color:#3d4c9c;letter-spacing:1px;">概念図 2</div>
<div class="hd" style="left:213px;color:#222;">各論の位置づけ</div>
<div class="cap" style="top:1095px;">高分子溶液の相分離は，粘弾性相分離の原理によって起こる（<b>田中の稿</b>）．その原理に基づき，RNA結合</div>
<div class="cap" style="top:1122px;">タンパク質とRNAは，細胞質でRNA顆粒を形成したり（<b>加藤の稿</b>，<b>吉澤の稿</b>，<b>杉本の稿</b>），核内でパラ</div>
<div class="cap" style="top:1149px;">スペックルを形成する（<b>高桑らの稿</b>）．LC配列の病原性変異による相分離異常は，神経変性疾患と関係す</div>
<div class="cap" style="top:1176px;">る（<b>小池らの稿</b>）．タンパク質と核酸が大集団を形成するヘテロクロマチンや転写調節の場においても，相</div>
<div style="position:absolute;top:1204px;right:37px;font-size:18px;font-weight:bold;color:#222;line-height:22px;white-space:nowrap;">実験医学2019年6月号</div>
</body></html>
